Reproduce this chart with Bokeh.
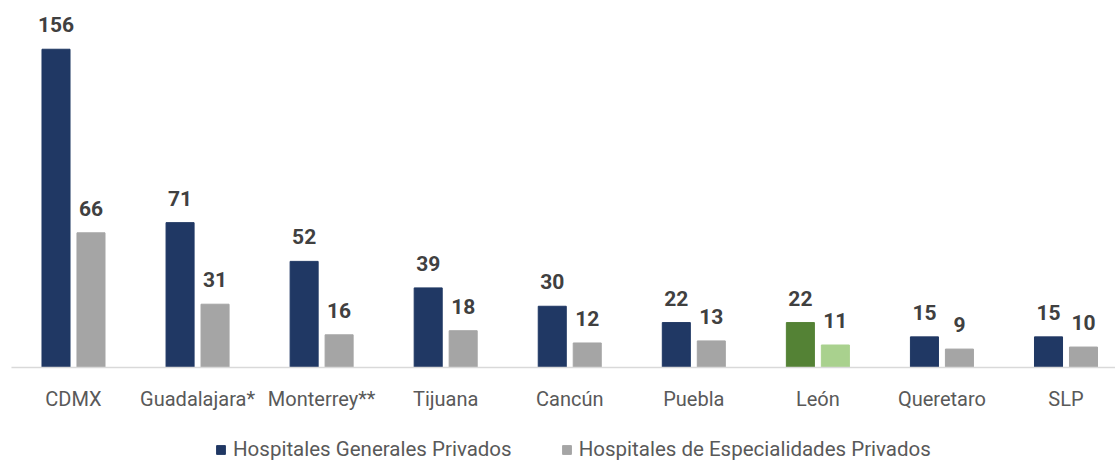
from bokeh.plotting import figure
from bokeh.models import ColumnDataSource, Range1d, Legend, LegendItem
from bokeh.core.properties import value
from bokeh.embed import file_html
from bokeh.resources import INLINE

cities = ["CDMX", "Guadalajara*", "Monterrey**", "Tijuana", "Cancún", "Puebla", "León", "Queretaro", "SLP"]
generales = [156, 71, 52, 39, 30, 22, 22, 15, 15]
especialidades = [66, 31, 16, 18, 12, 13, 11, 9, 10]
series_names = ["Hospitales Generales Privados", "Hospitales de Especialidades Privados"]

BLUE, GRAY = "#203864", "#A5A5A5"
GREEN, LGREEN = "#548235", "#A9D18E"
FONT = "Roboto"

xs = list(range(len(cities)))
off = 0.141
bw = 0.226

c1 = [GREEN if c == "León" else BLUE for c in cities]
c2 = [LGREEN if c == "León" else GRAY for c in cities]

s1 = ColumnDataSource(dict(x=[i - off for i in xs], top=generales, color=c1,
                           label=[str(v) for v in generales]))
s2 = ColumnDataSource(dict(x=[i + off for i in xs], top=especialidades, color=c2,
                           label=[str(v) for v in especialidades]))
sc = ColumnDataSource(dict(x=xs, y=[0] * len(xs), name=cities))

p = figure(width=1115, height=462, output_backend="svg", toolbar_location=None,
           x_range=Range1d(-0.5884, 8.399), y_range=Range1d(-46.6, 179.9),
           min_border=0, outline_line_color=None)
p.axis.visible = False
p.grid.visible = False

r1 = p.vbar(x="x", top="top", width=bw, fill_color="color", line_color="color", source=s1)
r2 = p.vbar(x="x", top="top", width=bw, fill_color="color", line_color="color", source=s2)

# category axis line and labels
p.segment(x0=-0.5, x1=8.399, y0=0, y1=0, line_color="#D9D9D9", line_width=1.5)
p.text(x="x", y="y", text="name", source=sc, y_offset=32,
       text_align="center", text_baseline="middle",
       text_font=value(FONT), text_font_size="20px", text_color="#595959")

for s in (s1, s2):
    p.text(x="x", y="top", text="label", source=s, y_offset=-17,
           text_align="center", text_baseline="bottom",
           text_font=value(FONT), text_font_size="21px", text_font_style="bold",
           text_color="#404040")

legend = Legend(items=[LegendItem(label=series_names[0], renderers=[r1], index=0),
                       LegendItem(label=series_names[1], renderers=[r2], index=0)],
                orientation="horizontal", location=(215, 1),
                label_text_font=FONT, label_text_font_size="20.5px", label_text_color="#595959",
                glyph_width=11, glyph_height=11, label_standoff=7, spacing=49,
                border_line_color=None, background_fill_alpha=0,
                padding=0, margin=0)
p.add_layout(legend, "center")

open("out.html", "w").write(file_html(p, INLINE))
